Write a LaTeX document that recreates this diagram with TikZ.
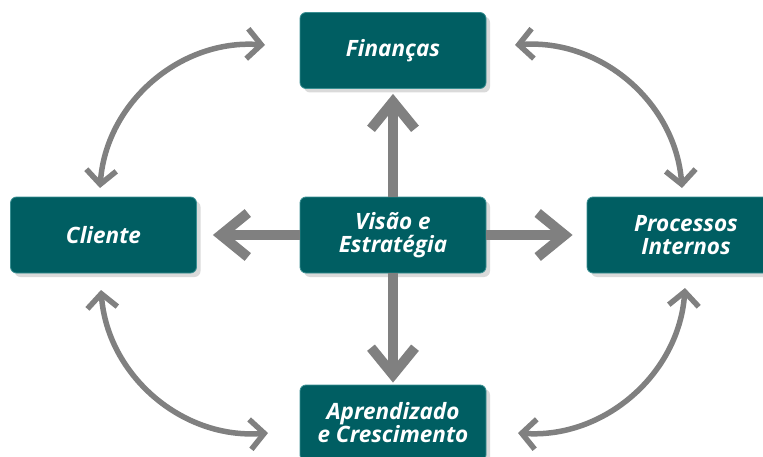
\documentclass[tikz,border=0pt]{standalone}
\usepackage{fontspec}
\setmainfont{Open Sans}
\usetikzlibrary{arrows.meta,shadows}
\definecolor{boxteal}{HTML}{005E62}
\definecolor{boxedge}{HTML}{3A8F92}
\definecolor{arrowgray}{HTML}{808080}
\definecolor{shadowgray}{HTML}{DADADA}
\tikzset{
  bsc/.style={rectangle, rounded corners=6pt, fill=boxteal, draw=boxedge, line width=0.8pt,
    minimum width=186pt, minimum height=76pt, text=white, align=center, inner sep=2pt,
    font=\fontsize{22.5}{23}\selectfont\bfseries\itshape,
    drop shadow={shadow xshift=4pt, shadow yshift=-4pt, fill=shadowgray, opacity=1}},
  bigarrow/.style={draw=arrowgray, line width=10pt,
    -{Straight Barb[length=27pt, width=44pt]}},
  arcarrow/.style={draw=arrowgray, line width=5.5pt,
    {Straight Barb[length=14pt, width=30pt]}-{Straight Barb[length=14pt, width=30pt]}},
}
\begin{document}
\begin{tikzpicture}[x=1pt,y=1pt]
\useasboundingbox (0,0) rectangle (763,456);
\clip (0,0) rectangle (763,456);
% nodes
\node[bsc] (vis) at (393,221) {Visão e\\Estratégia};
\node[bsc] (fin) at (393,405.5) {Finanças};
\node[bsc] (cli) at (103.5,221) {Cliente};
\node[bsc, minimum width=198pt] (pro) at (686,221) {Processos\\Internos};
\node[bsc] (apr) at (393,33) {Aprendizado\\e Crescimento};
% free ends of the thick arrows
\coordinate (tfin) at ([yshift=-5pt]fin.south);
\coordinate (tcli) at ([xshift=16pt]cli.east);
\coordinate (tpro) at ([xshift=-14pt]pro.west);
\coordinate (tapr) at ([yshift=2pt]apr.north);
\draw[bigarrow] (vis.north) -- (tfin);
\draw[bigarrow] (vis.west) -- (tcli);
\draw[bigarrow] (vis.east) -- (tpro);
\draw[bigarrow] (vis.south) -- (tapr);
% arc end points
\coordinate (a1) at (100,268);
\coordinate (a2) at (265,411);
\coordinate (b1) at (515,411);
\coordinate (b2) at (682,268);
\coordinate (c1) at (101,166);
\coordinate (c2) at (268,23);
\coordinate (d1) at (518,23);
\coordinate (d2) at (685,168);
\draw[arcarrow] (a1) to[bend left=45] (a2);
\draw[arcarrow] (b1) to[bend left=45] (b2);
\draw[arcarrow] (c1) to[bend right=45] (c2);
\draw[arcarrow] (d1) to[bend right=45] (d2);
\end{tikzpicture}
\end{document}
